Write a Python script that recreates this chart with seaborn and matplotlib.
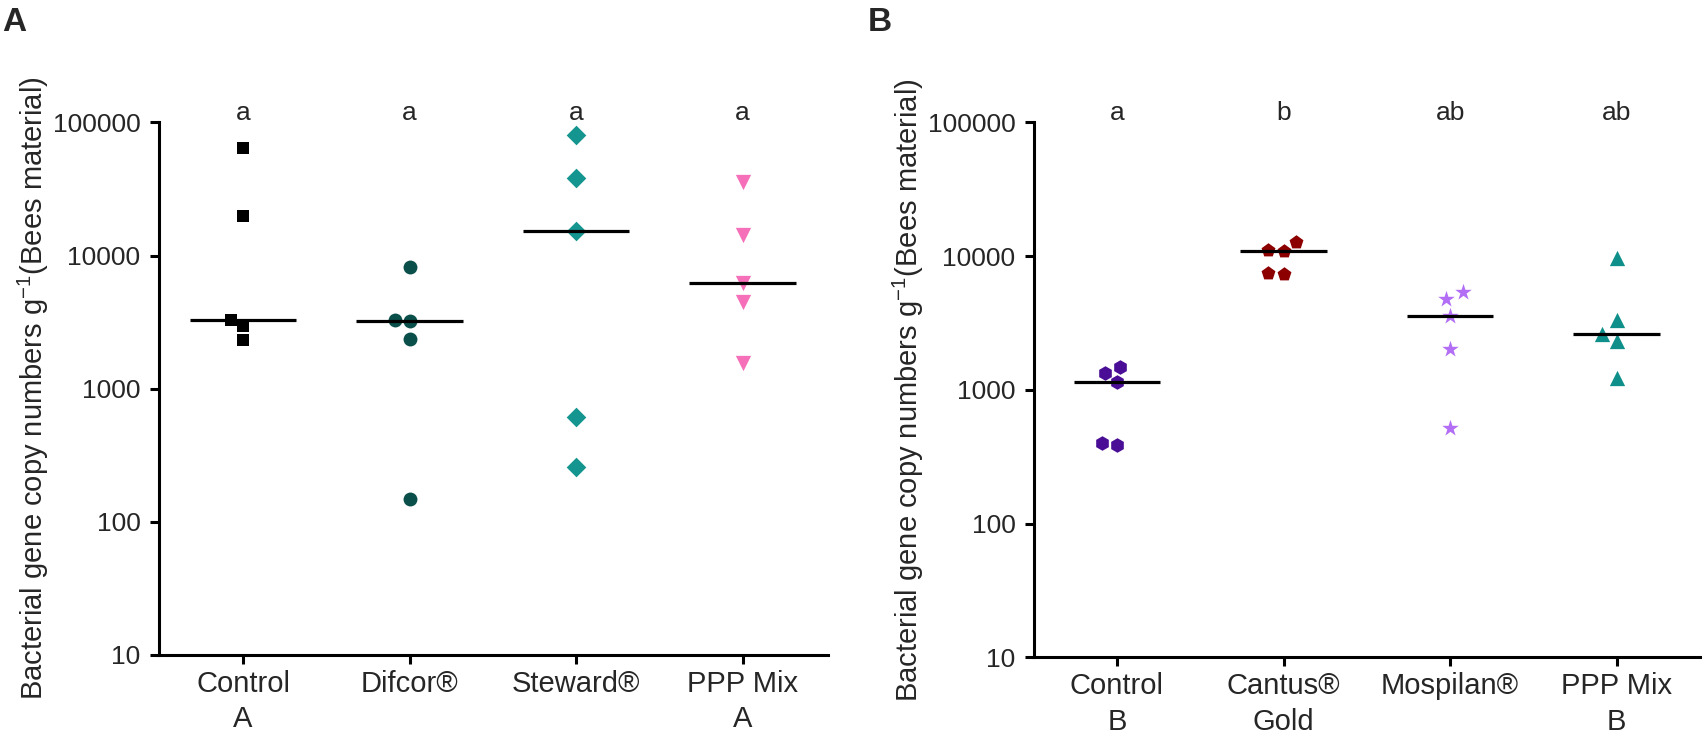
import numpy as np
import pandas as pd
import matplotlib
matplotlib.use("Agg")
import matplotlib.pyplot as plt
import seaborn as sns

# ---------------- data ----------------
cats_A = ["Control\nA", "Difcor®", "Steward®", "PPP Mix\nA"]
control_A = [63800, 19700, 3280, 2320, 2970]
difcor = [8200, 3240, 3280, 2370, 149]
steward = [80100, 38000, 15300, 614, 256]
ppp_A = [35600, 14300, 6220, 4480, 1560]
letters_A = ["a", "a", "a", "a"]

cats_B = ["Control\nB", "Cantus®\nGold", "Mospilan®", "PPP Mix\nB"]
control_B = [1470, 1150, 1340, 389, 402]
cantus = [12800, 11100, 11000, 7500, 7300]
mospilan = [5410, 4770, 3560, 2020, 515]
ppp_B = [9670, 3330, 2610, 2330, 1230]
letters_B = ["a", "b", "ab", "ab"]

yticks = [10, 100, 1000, 10000, 100000]
ytick_labels = ["10", "100", "1000", "10000", "100000"]
ylabel = "Bacterial gene copy numbers g$^{-1}$(Bees material)"

colors_A = ["#000000", "#0b4f4a", "#14958f", "#f570b8"]
markers_A = ["s", "o", "D", "v"]
sizes_A = [9, 10, 10, 11]
colors_B = ["#4a0e96", "#8c0000", "#b26ef5", "#0f8f8a"]
markers_B = ["h", "p", "*", "^"]
sizes_B = [10.5, 10.5, 12.5, 11]

# ---------------- style ----------------
sns.set_style("ticks")
plt.rcParams["font.family"] = ["Liberation Sans", "DejaVu Sans"]
plt.rcParams["mathtext.fontset"] = "custom"
plt.rcParams["mathtext.rm"] = "Liberation Sans"
plt.rcParams["mathtext.it"] = "Liberation Sans:italic"
plt.rcParams["mathtext.bf"] = "Liberation Sans:bold"

fig = plt.figure(figsize=(17.04, 7.46), dpi=100)
axA = fig.add_axes([0.0935, 0.122, 0.3922, 0.714])
axB = fig.add_axes([0.607, 0.119, 0.3907, 0.717])


def make_df(cats, groups):
    rows = []
    for c, vals in zip(cats, groups):
        for v in vals:
            rows.append((c, v))
    return pd.DataFrame(rows, columns=["group", "value"])


def draw(ax, cats, groups, colors, markers, sizes, letters, med_width, xlim):
    df = make_df(cats, groups)
    for c, col, mk, sz in zip(cats, colors, markers, sizes):
        sub = df[df["group"] == c]
        sns.swarmplot(data=sub, x="group", y="value", order=cats, ax=ax,
                      color=col, marker=mk, size=sz, linewidth=0,
                      log_scale=True, zorder=2)
    sns.boxplot(data=df, x="group", y="value", order=cats, ax=ax,
                width=med_width, showbox=False, showcaps=False,
                showfliers=False, whiskerprops={"visible": False},
                medianprops={"color": "black", "linewidth": 2.3,
                             "solid_capstyle": "butt", "zorder": 3},
                log_scale=True)
    ax.set_yscale("log")
    ax.set_ylim(10, 100000)
    ax.set_yticks(yticks)
    ax.set_yticklabels(ytick_labels)
    ax.yaxis.set_minor_locator(matplotlib.ticker.NullLocator())
    ax.set_xlim(*xlim)
    ax.set_xticks(range(len(cats)))
    ax.set_xticklabels(cats, fontsize=21, linespacing=1.35)
    ax.set_xlabel("")
    ax.set_ylabel(ylabel, fontsize=21, labelpad=1)
    ax.tick_params(axis="y", labelsize=19, length=6.5, width=2.2, pad=7, color="black")
    ax.tick_params(axis="x", length=6.5, width=2.2, pad=4, color="black")
    for s in ["top", "right"]:
        ax.spines[s].set_visible(False)
    for s in ["left", "bottom"]:
        ax.spines[s].set_linewidth(2.2)
        ax.spines[s].set_color("black")
    trans = matplotlib.transforms.blended_transform_factory(ax.transData, ax.transAxes)
    for i, t in enumerate(letters):
        ax.annotate(t, xy=(i, 1.0), xycoords=trans, xytext=(0, 2),
                    textcoords="offset points", ha="center", va="baseline",
                    fontsize=19, annotation_clip=False)


draw(axA, cats_A, [control_A, difcor, steward, ppp_A], colors_A, markers_A,
     sizes_A, letters_A, 0.64, (-0.503, 3.51))
draw(axB, cats_B, [control_B, cantus, mospilan, ppp_B], colors_B, markers_B,
     sizes_B, letters_B, 0.52, (-0.496, 3.5))

fig.text(0.001, 0.99, "A", fontsize=24, fontweight="bold", va="top", ha="left")
fig.text(0.509, 0.99, "B", fontsize=24, fontweight="bold", va="top", ha="left")

fig.savefig("out.png", dpi=100)
